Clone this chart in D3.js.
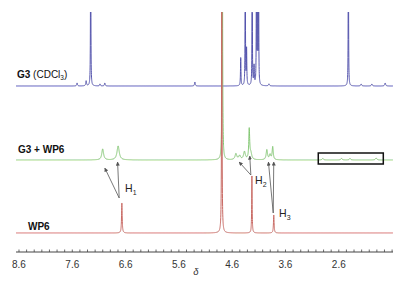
<!DOCTYPE html>
<html>
<head>
<meta charset="utf-8">
<script src="https://cdn.jsdelivr.net/npm/d3@7"></script>
<style>
  body { margin: 0; background: #fff; }
  text { font-family: "Liberation Sans", Arial, sans-serif; }
</style>
</head>
<body>
<div id="chartDiv"></div>
<script>
// peaks: [shift (ppm), height, half width (ppm)]
var peaksG3 = [
  [7.51, 3, 0.008], [7.34, 5, 0.008], [7.255, 260, 0.003], [7.08, 2, 0.008],
  [6.99, 3, 0.008], [5.30, 4, 0.008],
  [4.44, 28, 0.005], [4.355, 200, 0.003], [4.33, 36, 0.005],
  [4.225, 200, 0.003], [4.19, 19, 0.006],
  [4.145, 200, 0.003], [4.125, 200, 0.003], [4.105, 200, 0.003],
  [3.91, 2, 0.01], [2.42, 260, 0.0028],
  [2.18, 2, 0.01], [1.98, 2, 0.01], [1.73, 3, 0.01]
];
var peaksComplex = [
  [7.03, 11, 0.02], [6.74, 14, 0.025], [4.785, 320, 0.005],
  [4.53, 6, 0.02], [4.46, 4, 0.02], [4.37, 8, 0.02], [4.28, 30, 0.01],
  [4.25, 6, 0.02], [3.95, 10, 0.015], [3.89, 5, 0.015], [3.84, 13, 0.012],
  [2.90, 1.5, 0.015], [2.55, 1.5, 0.015], [2.39, 1.5, 0.015], [1.90, 2, 0.015]
];
var peaksWP6 = [
  [6.67, 30, 0.007], [4.795, 320, 0.0045], [4.23, 57, 0.005], [3.82, 18, 0.007]
];

var spectra = [
  { name: "G3", peaks: peaksG3, offset: 166, color: "#5454ad" },
  { name: "G3 + WP6", peaks: peaksComplex, offset: 92, color: "#82c772" },
  { name: "WP6", peaks: peaksWP6, offset: 19, color: "#c96a64" }
];

var tickLabels = [8.6, 7.6, 6.6, 5.6, 4.6, 3.6, 2.6];

// assignment arrows [from shift, from level] -> [to shift, to level]
var arrows = [
  [[6.72, 54], [6.99, 84]], [[6.72, 54], [6.75, 90]],
  [[4.25, 77], [4.47, 90]], [[4.25, 77], [4.27, 96]],
  [[3.83, 39], [3.92, 90]], [[3.83, 39], [3.82, 90]]
];
var protonLabels = [["1", 6.61, 60], ["2", 4.17, 68], ["3", 3.72, 35]];
var zoomBox = [2.985, 1.765, 88, 99];

var width = 403, height = 289;

var svg = d3.select("#chartDiv").append("svg")
  .attr("width", width).attr("height", height);

var x = d3.scaleLinear().domain([8.656, 1.583]).range([16, 393]);
var y = d3.scaleLinear().domain([0, 240]).range([252, 12]);

svg.append("clipPath").attr("id", "clip")
  .append("rect").attr("x", 0).attr("y", 12).attr("width", width).attr("height", 240);

var grid = d3.range(8.656, 1.583, -0.001);

function lorentz(peaks, d) {
  var s = 0;
  peaks.forEach(function(p) {
    var g = p[2];
    s += p[1] * g * g / (g * g + (d - p[0]) * (d - p[0]));
  });
  return s;
}

var line = d3.line()
  .x(function(d) { return x(d[0]); })
  .y(function(d) { return y(d[1]); });

var plot = svg.append("g").attr("clip-path", "url(#clip)");
spectra.forEach(function(s) {
  var pts = grid.map(function(d) { return [d, s.offset + lorentz(s.peaks, d)]; });
  plot.append("path")
    .attr("d", line(pts))
    .attr("fill", "none")
    .attr("stroke", s.color)
    .attr("stroke-width", 1);
});

// arrows
svg.append("defs").append("marker")
  .attr("id", "head").attr("viewBox", "0 0 10 10")
  .attr("refX", 9).attr("refY", 5)
  .attr("markerWidth", 5).attr("markerHeight", 5)
  .attr("orient", "auto")
  .append("path").attr("d", "M0,0 L10,5 L0,10 Z").attr("fill", "#555");

svg.selectAll(".arrow").data(arrows).enter().append("line")
  .attr("x1", function(d) { return x(d[0][0]); })
  .attr("y1", function(d) { return y(d[0][1]); })
  .attr("x2", function(d) { return x(d[1][0]); })
  .attr("y2", function(d) { return y(d[1][1]); })
  .attr("stroke", "#555").attr("stroke-width", 0.8)
  .attr("marker-end", "url(#head)");

protonLabels.forEach(function(p) {
  var t = svg.append("text")
    .attr("x", x(p[1])).attr("y", y(p[2]))
    .attr("font-size", 10.5).attr("fill", "#222");
  t.append("tspan").text("H");
  t.append("tspan").attr("font-size", 7).attr("dy", 3).text(p[0]);
});

// zoom box
svg.append("rect")
  .attr("x", x(zoomBox[0])).attr("y", y(zoomBox[3]))
  .attr("width", x(zoomBox[1]) - x(zoomBox[0]))
  .attr("height", y(zoomBox[2]) - y(zoomBox[3]))
  .attr("fill", "none").attr("stroke", "#111").attr("stroke-width", 1.5);

// trace labels
var l1 = svg.append("text").attr("x", 17).attr("y", 78).attr("font-size", 10).attr("fill", "#111");
l1.append("tspan").attr("font-weight", "bold").text("G3");
l1.append("tspan").text(" (CDCl");
l1.append("tspan").attr("font-size", 6.5).attr("dy", 2).text("3");
l1.append("tspan").attr("dy", -2).text(")");

svg.append("text").attr("x", 18).attr("y", 153).attr("font-size", 10)
  .attr("font-weight", "bold").attr("fill", "#111").text("G3 + WP6");
svg.append("text").attr("x", 28).attr("y", 230).attr("font-size", 10)
  .attr("font-weight", "bold").attr("fill", "#111").text("WP6");

// axis
var axisG = svg.append("g").attr("class", "xaxis")
  .attr("transform", "translate(0,252)");
axisG.append("line").attr("x1", 16).attr("x2", 393)
  .attr("stroke", "#444").attr("stroke-width", 1);
axisG.selectAll(".minor").data(d3.range(8.6, 1.59, -1 / 7)).enter().append("line")
  .attr("x1", function(d) { return x(d); }).attr("x2", function(d) { return x(d); })
  .attr("y1", 0).attr("y2", -2.5)
  .attr("stroke", "#444").attr("stroke-width", 0.8);
axisG.selectAll(".lbl").data(tickLabels).enter().append("text")
  .attr("x", function(d) { return x(d); }).attr("y", 16)
  .attr("text-anchor", "middle").attr("font-size", 10).attr("fill", "#333")
  .text(function(d) { return d.toFixed(1); });

svg.append("text").attr("x", x(5.28)).attr("y", 275)
  .attr("text-anchor", "middle").attr("font-size", 9.5)
  .attr("font-style", "italic").attr("font-family", "DejaVu Serif, serif")
  .attr("fill", "#333").text("δ");
</script>
</body>
</html>
